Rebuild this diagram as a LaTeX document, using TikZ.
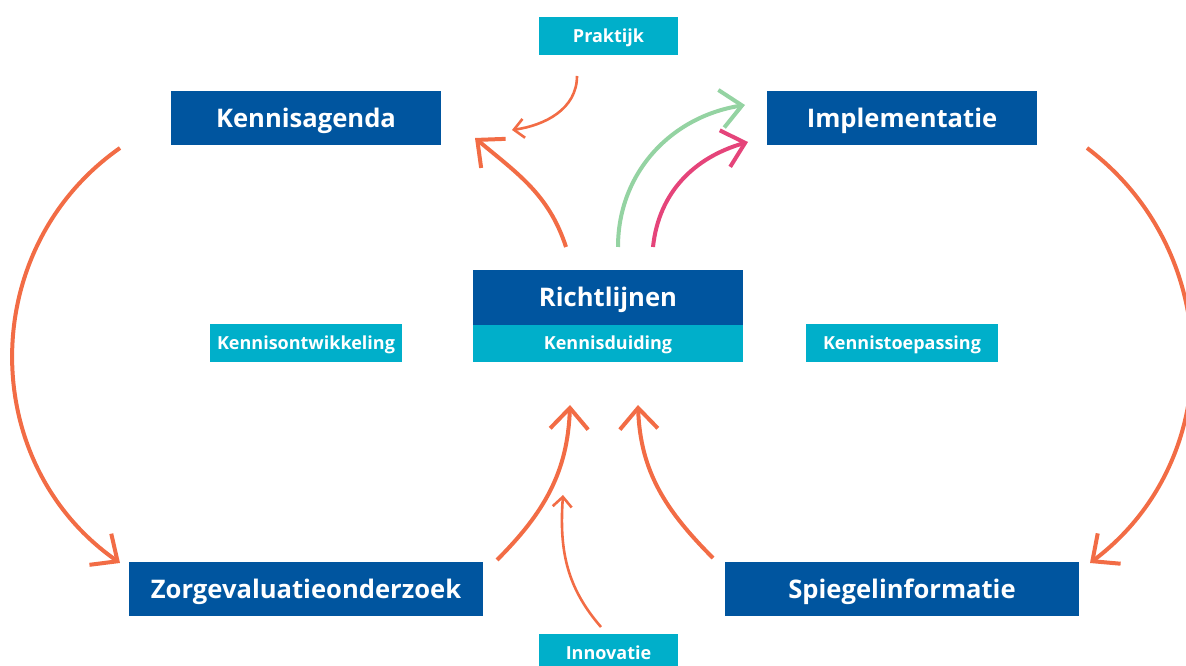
\documentclass[tikz,border=0pt]{standalone}
\usepackage{fontspec}
\setmainfont{Open Sans}
\usetikzlibrary{arrows.meta}
\definecolor{dblue}{HTML}{00559F}
\definecolor{cyanb}{HTML}{00AFCA}
\definecolor{orng}{HTML}{F26C45}
\definecolor{grn}{HTML}{94D3A2}
\definecolor{pnk}{HTML}{E5447A}
\tikzset{
  bigbox/.style={fill=dblue, text=white, font=\fontsize{25.6}{27}\selectfont\bfseries, minimum height=54pt, inner sep=0pt, text height=18.3pt, text depth=0pt},
  smallbox/.style={fill=cyanb, text=white, font=\fontsize{18}{20}\selectfont\bfseries, minimum height=38pt, inner sep=0pt, text height=12.9pt, text depth=0pt},
  bigarr/.style={line width=4pt, -{Straight Barb[length=21pt,width=38pt,line width=4pt]}},
  thinarr/.style={line width=2.6pt, -{Straight Barb[length=10pt,width=19pt,line width=2.6pt]}},
}
\begin{document}
\begin{tikzpicture}[x=1pt,y=1pt]
\useasboundingbox (0,0) rectangle (1186,666);
% nodes
\node[smallbox, minimum width=139pt] (prak) at (608.5,630) {Praktijk};
\node[bigbox, minimum width=270pt] (kag) at (306,548) {Kennisagenda};
\node[bigbox, minimum width=270pt] (imp) at (902,548) {Implementatie};
\node[bigbox, minimum width=270pt, minimum height=55pt] (richt) at (608,368.5) {Richtlijnen};
\node[smallbox, minimum width=270pt, minimum height=37pt] (duid) at (608,322.5) {Kennisduiding};
\node[smallbox, minimum width=192pt] (kont) at (306,323) {Kennisontwikkeling};
\node[smallbox, minimum width=192pt] (ktoe) at (902,323) {Kennistoepassing};
\node[bigbox, minimum width=354pt] (zorg) at (306,77) {Zorgevaluatieonderzoek};
\node[bigbox, minimum width=354pt] (spieg) at (902,77) {Spiegelinformatie};
\node[smallbox, minimum width=139pt] (inno) at (608.5,13) {Innovatie};
% connector end points
\coordinate (l1) at (120,518);
\coordinate (l2) at (120,103);
\coordinate (r1) at (1087,518);
\coordinate (r2) at (1090,103);
\coordinate (k1) at (566,419);
\coordinate (k2) at (475,528);
\coordinate (p1) at (577,590);
\coordinate (p2) at (512,536);
\coordinate (g1) at (618,419);
\coordinate (g2) at (745,561);
\coordinate (m1) at (653,419);
\coordinate (m2) at (748,524);
\coordinate (z1) at (497,106);
\coordinate (z2) at (570,261);
\coordinate (s1) at (713,108);
\coordinate (s2) at (638,261);
\coordinate (i1) at (601,39);
\coordinate (i2) at (563,171);
% connectors
\draw[bigarr, orng] (l1) to[out=215, in=145, looseness=1.08] (l2);
\draw[bigarr, orng] (r1) to[out=-37, in=37, looseness=1.06] (r2);
\draw[bigarr, orng] (k1) to[out=108, in=-40] (k2);
\draw[thinarr, orng] (p1) to[out=-90, in=8] (p2);
\draw[bigarr, grn] (g1) to[out=90, in=189] (g2);
\draw[bigarr, pnk] (m1) to[out=84, in=196] (m2);
\draw[bigarr, orng] (z1) to[out=45, in=268] (z2);
\draw[bigarr, orng] (s1) to[out=135, in=272] (s2);
\draw[thinarr, orng] (i1) to[out=131, in=266] (i2);
\end{tikzpicture}
\end{document}
